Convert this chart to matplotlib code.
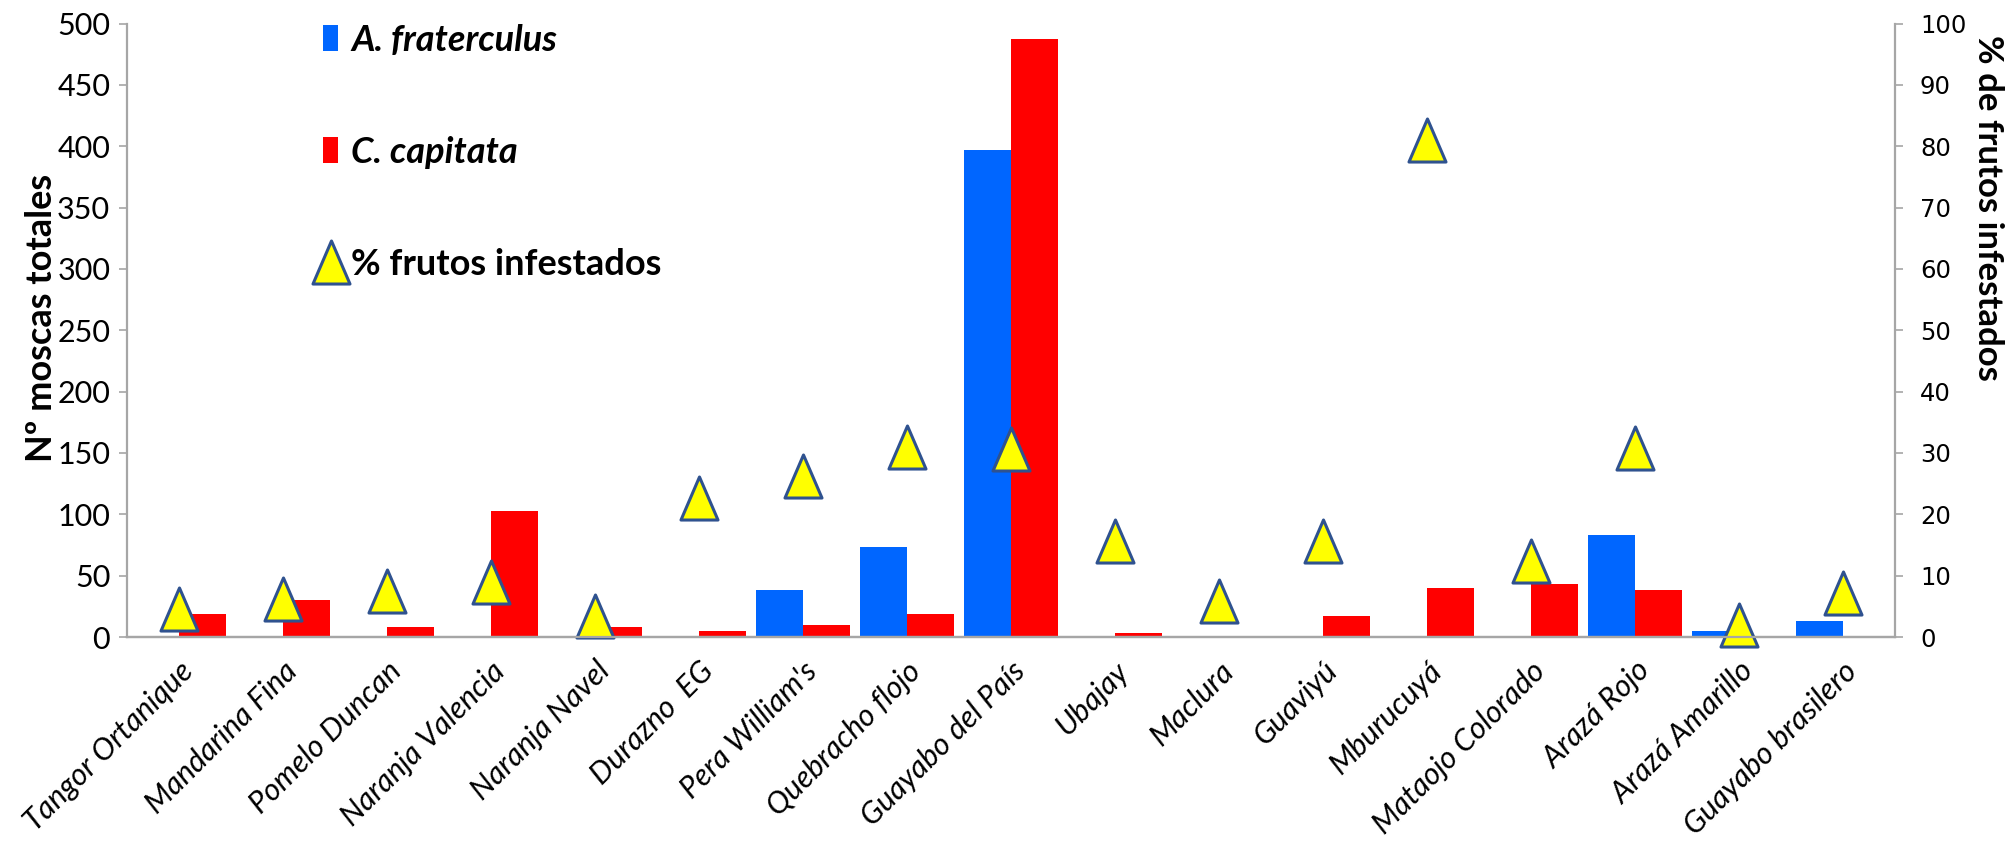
import matplotlib
matplotlib.use('Agg')
import matplotlib.pyplot as plt
from matplotlib.patches import Patch
from matplotlib.lines import Line2D
from matplotlib.path import Path
import numpy as np

plt.rcParams['font.family'] = ['Lato', 'DejaVu Sans']

# hospederos muestreados
hospederos = ['Tangor Ortanique', 'Mandarina Fina', 'Pomelo Duncan', 'Naranja Valencia',
              'Naranja Navel', 'Durazno  EG', "Pera William's", 'Quebracho flojo',
              'Guayabo del País', 'Ubajay', 'Maclura', 'Guaviyú', 'Mburucuyá',
              'Mataojo Colorado', 'Arazá Rojo', 'Arazá Amarillo', 'Guayabo brasilero']

# moscas totales por especie
a_fraterculus = [0, 0, 1, 0, 0, 0, 38, 73, 397, 0, 0, 1, 0, 0, 83, 5, 13]
c_capitata = [19, 30, 8, 103, 8, 5, 10, 19, 487, 3, 1, 17, 40, 43, 38, 1, 0]

# porcentaje de frutos infestados
pct_infestados = [4.5, 6.2, 7.5, 8.9, 3.4, 22.6, 26.3, 30.9, 30.7, 15.7, 5.9, 15.7,
                  81.0, 12.4, 30.8, 2.0, 7.1]

AZUL = '#0066FF'
ROJO = '#FF0000'
AMARILLO = '#FFFF00'
BORDE = '#2F528F'
GRIS = '#A6A6A6'

# triángulo algo más alto que ancho
triangulo = Path([(0, 1), (-0.86, -1), (0.86, -1), (0, 1)],
                 [Path.MOVETO, Path.LINETO, Path.LINETO, Path.CLOSEPOLY])

fig = plt.figure(figsize=(20.08, 8.46), dpi=100)
ax = fig.add_axes([0.0632, 0.247, 0.8805, 0.7252])
ax2 = ax.twinx()

x = np.arange(len(hospederos))
ancho = 0.452
ax.bar(x - ancho / 2, a_fraterculus, width=ancho, color=AZUL, linewidth=0)
ax.bar(x + ancho / 2, c_capitata, width=ancho, color=ROJO, linewidth=0)

ax2.plot(x, pct_infestados, linestyle='none', marker=triangulo, markersize=31,
         markerfacecolor=AMARILLO, markeredgecolor=BORDE, markeredgewidth=2.2,
         clip_on=False)

ax.set_xlim(-0.5, len(hospederos) - 0.5)
ax.set_ylim(0, 500)
ax2.set_ylim(0, 100)
ax.set_yticks(np.arange(0, 501, 50))
ax2.set_yticks(np.arange(0, 101, 10))

for a in (ax, ax2):
    for lado in ('left', 'right', 'bottom'):
        a.spines[lado].set_color(GRIS)
        a.spines[lado].set_linewidth(1.6)
    a.spines['top'].set_visible(False)
ax.spines['right'].set_visible(False)
ax2.spines['left'].set_visible(False)

ax.tick_params(axis='y', direction='out', length=6, width=1.2, color=GRIS,
               labelsize=22, pad=6)
ax2.tick_params(axis='y', direction='out', length=6, width=1.2, color=GRIS,
                labelsize=17.5, pad=12)
for t in ax2.get_yticklabels():
    t.set_family('DejaVu Sans')

ax.set_xticks(x)
ax.set_xticklabels(hospederos, rotation=45, ha='right', rotation_mode='anchor',
                   style='italic', fontsize=22)
ax.tick_params(axis='x', length=0, pad=14)

ax.set_ylabel('Nº moscas totales', fontsize=26, fontweight='bold')
ax.yaxis.set_label_coords(-0.039, 0.52)
ax2.set_ylabel('% de frutos infestados', fontsize=25, fontweight='bold', rotation=270)
ax2.yaxis.set_label_coords(1.0617, 0.699)

handles = [Patch(facecolor=AZUL), Patch(facecolor=ROJO),
           Line2D([], [], linestyle='none', marker=triangulo, markersize=31,
                  markerfacecolor=AMARILLO, markeredgecolor=BORDE, markeredgewidth=2.2)]
leg = ax2.legend(handles, ['A. fraterculus', 'C. capitata', '% frutos infestados'],
                 loc='upper left', bbox_to_anchor=(0.111, 1.0), frameon=False,
                 borderpad=0, borderaxespad=0, handlelength=0.42, handleheight=0.72,
                 handletextpad=0.36, labelspacing=2.19,
                 prop={'size': 26, 'weight': 'bold'})
leg.get_texts()[0].set_style('italic')
leg.get_texts()[1].set_style('italic')

fig.savefig('out.png', dpi=100)
